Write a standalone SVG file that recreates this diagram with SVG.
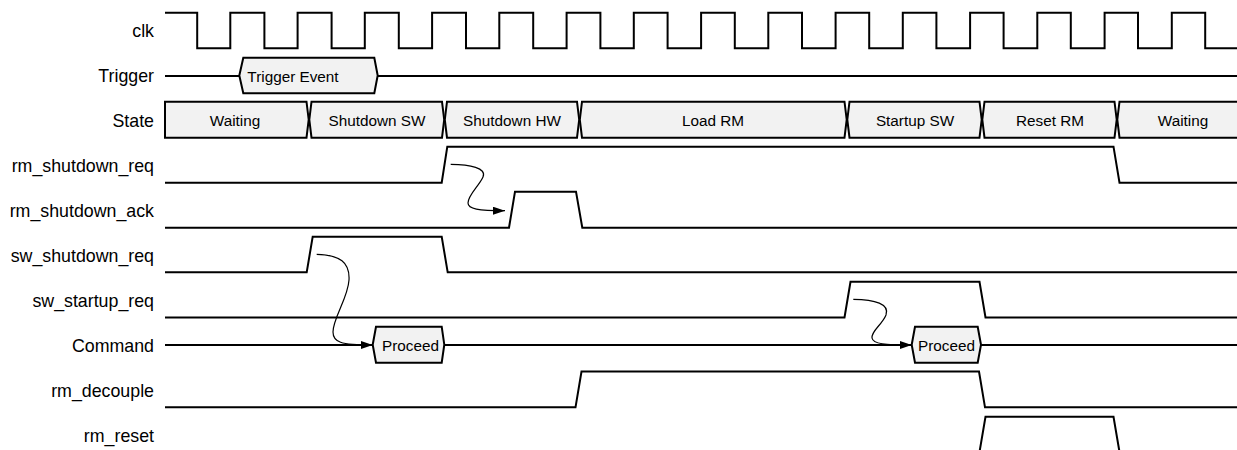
<svg xmlns="http://www.w3.org/2000/svg" width="1237" height="450" viewBox="0 0 1237 450">
<style>
.lbl{font-family:"Liberation Sans",Arial,sans-serif;font-size:17.8px;fill:#000;text-anchor:end}
.in{font-family:"Liberation Sans",Arial,sans-serif;font-size:15.3px;fill:#000;text-anchor:middle}
.w{fill:none;stroke:#000;stroke-width:2;stroke-linejoin:miter}
.box{fill:#f2f2f2;stroke:#000;stroke-width:2;stroke-linejoin:miter}
.arr{fill:none;stroke:#000;stroke-width:1.2}
</style>
<defs>
<marker id="ah" viewBox="0 0 12 8" refX="12" refY="4" markerWidth="12" markerHeight="8" orient="auto" markerUnits="userSpaceOnUse"><path d="M0,0 L12,4 L0,8 z" fill="#000"/></marker>
</defs>
<rect width="1237" height="450" fill="#fff"/>

<g id="clk">
<text class="lbl" x="154" y="37.4">clk</text>
<path class="w" d="M165,12.7 H197.2 V48.3 H230.3 V12.7 H264.4 V48.3 H297.6 V12.7 H331.6 V48.3 H364.8 V12.7 H398.8 V48.3 H432.1 V12.7 H466 V48.3 H499.3 V12.7 H533.2 V48.3 H566.6 V12.7 H600.4 V48.3 H633.8 V12.7 H667.6 V48.3 H701.1 V12.7 H734.8 V48.3 H768.3 V12.7 H802 V48.3 H835.6 V12.7 H869.2 V48.3 H902.8 V12.7 H936.4 V48.3 H970.1 V12.7 H1003.6 V48.3 H1037.3 V12.7 H1070.8 V48.3 H1104.6 V12.7 H1138 V48.3 H1171.8 V12.7 H1205.2 V48.3 H1237"/>
</g>

<g id="trigger">
<text class="lbl" x="154" y="82.3">Trigger</text>
<path class="w" d="M165,76 H239.3 M377.7,76 H1237"/>
<polygon class="box" points="239.3,75.5 243.3,57.7 374.3,57.7 377.7,75.5 374.3,93.3 243.3,93.3"/>
<text class="in" x="293" y="82.3">Trigger Event</text>
</g>

<g id="state">
<text class="lbl" x="154" y="127.2">State</text>
<polygon class="box" points="165,101.7 306.5,101.7 308.7,119.7 306.5,137.7 165,137.7"/>
<polygon class="box" points="311.5,101.7 442,101.7 444.2,119.7 442,137.7 311.5,137.7 309.3,119.7"/>
<polygon class="box" points="447,101.7 577,101.7 579.2,119.7 577,137.7 447,137.7 444.8,119.7"/>
<polygon class="box" points="582,101.7 844.5,101.7 846.7,119.7 844.5,137.7 582,137.7 579.8,119.7"/>
<polygon class="box" points="849.5,101.7 979.5,101.7 981.7,119.7 979.5,137.7 849.5,137.7 847.3,119.7"/>
<polygon class="box" points="984.5,101.7 1114.5,101.7 1116.7,119.7 1114.5,137.7 984.5,137.7 982.3,119.7"/>
<polygon class="box" points="1119.5,101.7 1245,101.7 1245,137.7 1119.5,137.7 1117.3,119.7"/>
<text class="in" x="235" y="126">Waiting</text>
<text class="in" x="377" y="126">Shutdown SW</text>
<text class="in" x="512" y="126">Shutdown HW</text>
<text class="in" x="713" y="126">Load RM</text>
<text class="in" x="915" y="126">Startup SW</text>
<text class="in" x="1050" y="126">Reset RM</text>
<text class="in" x="1183" y="126">Waiting</text>
</g>

<g id="rm_shutdown_req">
<text class="lbl" x="154" y="172.1">rm_shutdown_req</text>
<path class="w" d="M165,182.7 H441.7 L447.3,146.7 H1113.5 L1119.5,182.7 H1237"/>
</g>

<g id="rm_shutdown_ack">
<text class="lbl" x="154" y="217">rm_shutdown_ack</text>
<path class="w" d="M165,227.7 H509 L515,191.7 H576 L582.3,227.7 H1237"/>
</g>

<g id="sw_shutdown_req">
<text class="lbl" x="154" y="261.9">sw_shutdown_req</text>
<path class="w" d="M165,272.3 H306.7 L312.7,236.7 H441.7 L447.7,272.3 H1237"/>
</g>

<g id="sw_startup_req">
<text class="lbl" x="154" y="306.8">sw_startup_req</text>
<path class="w" d="M165,317.5 H844.5 L850.5,281.8 H979.5 L985.5,317.5 H1237"/>
</g>

<g id="command">
<text class="lbl" x="154" y="351.7">Command</text>
<path class="w" d="M165,345 H372.7 M444.3,345 H911.7 M981,345 H1237"/>
<polygon class="box" points="372.7,344.7 376,326.7 441.7,326.7 444.3,344.7 441.7,362.7 376,362.7"/>
<text class="in" x="410.5" y="350.7">Proceed</text>
<polygon class="box" points="911.7,344.7 915,326.7 977.7,326.7 981,344.7 977.7,362.7 915,362.7"/>
<text class="in" x="946.5" y="350.7">Proceed</text>
</g>

<g id="rm_decouple">
<text class="lbl" x="154" y="396.6">rm_decouple</text>
<path class="w" d="M165,407.3 H575.5 L581.5,371.5 H979 L985,407.3 H1237"/>
</g>

<g id="rm_reset">
<text class="lbl" x="154" y="441.5">rm_reset</text>
<path class="w" d="M979.5,452 L985.5,416.8 H1113.5 L1119.5,452"/>
</g>

<g id="connectors">
<path class="arr" marker-end="url(#ah)" d="M450.7,164.3 C470,164.5 487,168 483,177 C479,186 468,195 468,203 C468,209 478,210.7 505,210.7"/>
<path class="arr" marker-end="url(#ah)" d="M316.7,254.3 C340,255 350,262 349,280 C348,298 333,318 333,332 C333,342 340,345 372.7,345"/>
<path class="arr" marker-end="url(#ah)" d="M853.3,299.3 C875,299.5 890,304 886,315 C882,325 871,331 872,338 C873,344 885,345 911.7,345"/>
</g>
</svg>
